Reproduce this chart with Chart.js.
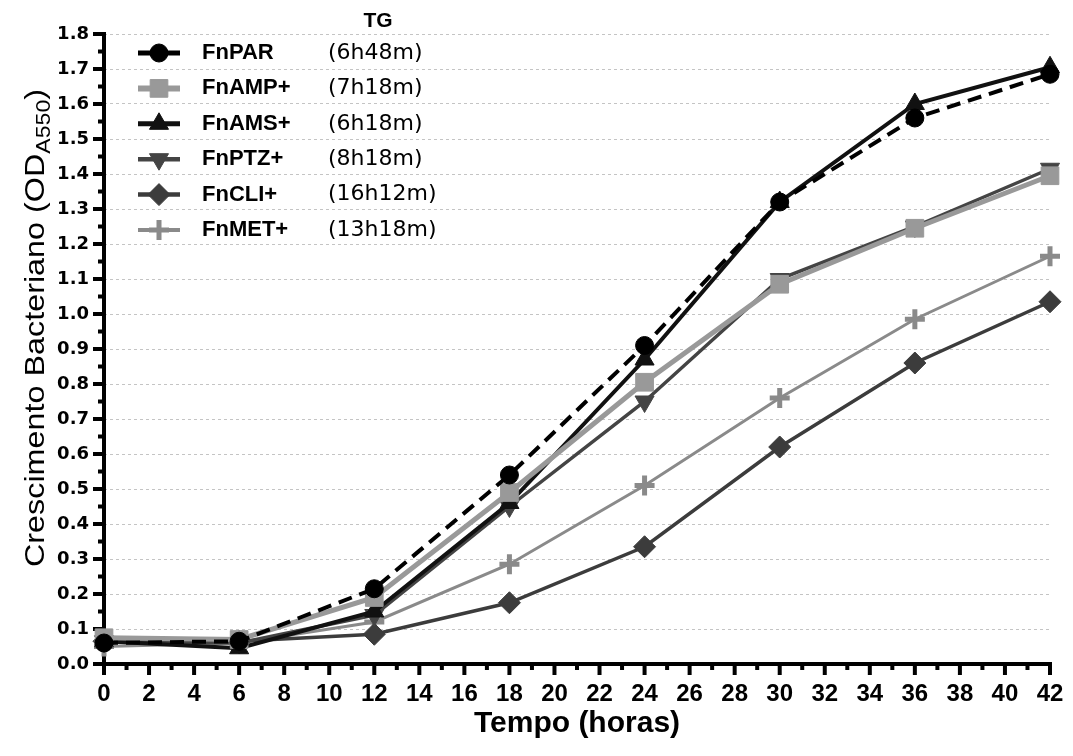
<!DOCTYPE html>
<html>
<head>
<meta charset="utf-8">
<script src="https://cdn.jsdelivr.net/npm/chart.js@4.4.1/dist/chart.umd.min.js"></script>
<style>
    html, body { margin: 0; padding: 0; background: #fff; }
</style>
</head>
<body>
<canvas id="myChart" width="1073" height="756"></canvas>
<script>
// dados
var horas = [0, 6, 12, 18, 24, 30, 36, 42];
var fnPAR = [0.06, 0.065, 0.215, 0.54, 0.91, 1.32, 1.56, 1.685];
var fnAMP = [0.075, 0.07, 0.19, 0.49, 0.805, 1.085, 1.245, 1.395];
var fnAMS = [0.065, 0.045, 0.15, 0.46, 0.87, 1.32, 1.60, 1.705];
var fnPTZ = [0.065, 0.06, 0.14, 0.45, 0.75, 1.10, 1.25, 1.415];
var fnCLI = [0.065, 0.065, 0.085, 0.175, 0.335, 0.62, 0.86, 1.035];
var fnMET = [0.05, 0.06, 0.12, 0.285, 0.51, 0.76, 0.985, 1.165];

var nomes = ["FnPAR", "FnAMP+", "FnAMS+", "FnPTZ+", "FnCLI+", "FnMET+"];
var tempoGeracao = ["(6h48m)", "(7h18m)", "(6h18m)", "(8h18m)", "(16h12m)", "(13h18m)"];

function pontos(valores) {
    return horas.map(function (h, i) {
        return { x: h, y: valores[i] };
    });
}

var estilos = [
    { cor: "#000000", largura: 4, dash: [14, 8], ponto: "circle", raio: 9, rot: 0 },
    { cor: "#999999", largura: 5, dash: [], ponto: "rect", raio: 12.5, rot: 0 },
    { cor: "#111111", largura: 4, dash: [], ponto: "triangle", raio: 11, rot: 0 },
    { cor: "#444444", largura: 3.5, dash: [], ponto: "triangle", raio: 11, rot: 180 },
    { cor: "#3c3c3c", largura: 3.5, dash: [], ponto: "rectRot", raio: 11, rot: 0 },
    { cor: "#8a8a8a", largura: 3, dash: [], ponto: "cross", raio: 10, rot: 0 }
];
var series = [fnPAR, fnAMP, fnAMS, fnPTZ, fnCLI, fnMET];

var datasets = series.map(function (valores, i) {
    var e = estilos[i];
    return {
        label: nomes[i],
        data: pontos(valores),
        borderColor: e.cor,
        backgroundColor: e.cor,
        borderWidth: e.largura,
        borderDash: e.dash,
        pointStyle: e.ponto,
        pointRadius: e.raio,
        pointRotation: e.rot,
        pointBorderWidth: e.ponto === "cross" ? 5 : 1,
        pointBackgroundColor: e.cor,
        pointBorderColor: e.cor,
        tension: 0,
        clip: false
    };
});

// eixos com ticks maiores e menores
var eixosPlugin = {
    id: "eixos",
    beforeDatasetsDraw: function (chart) {
        var ctx = chart.ctx;
        var sx = chart.scales.x, sy = chart.scales.y;
        var x0 = sx.left, yb = sy.bottom;
        ctx.save();
        ctx.strokeStyle = "#000";
        ctx.lineWidth = 4;
        ctx.beginPath();
        ctx.moveTo(x0, sy.top - 2);
        ctx.lineTo(x0, yb + 2);
        ctx.moveTo(x0 - 2, yb);
        ctx.lineTo(sx.right + 2, yb);
        for (var v = 0; v <= 36; v++) {
            var py = sy.getPixelForValue(v / 20);
            var len = v % 2 === 0 ? 11 : 6;
            ctx.moveTo(x0, py);
            ctx.lineTo(x0 - len, py);
        }
        for (var h = 0; h <= 42; h++) {
            var px = sx.getPixelForValue(h);
            var l = h % 2 === 0 ? 11 : 6;
            ctx.moveTo(px, yb);
            ctx.lineTo(px, yb + l);
        }
        ctx.stroke();
        ctx.restore();
    },
    afterDraw: function (chart) {
        var ctx = chart.ctx;
        ctx.save();

        // titulo do eixo y com subscrito
        var principal = "Crescimento Bacteriano (OD";
        var fMain = "28px 'Liberation Sans', Arial";
        var fSub = "20px 'Liberation Sans', Arial";
        ctx.font = fMain;
        var w1 = ctx.measureText(principal).width;
        var w3 = ctx.measureText(")").width;
        ctx.font = fSub;
        var w2 = ctx.measureText("A550").width;
        var total = w1 + w2 + w3;
        ctx.translate(36, 328);
        ctx.rotate(-Math.PI / 2);
        ctx.scale(478 / total, 1);
        ctx.fillStyle = "#000";
        ctx.textBaseline = "middle";
        ctx.textAlign = "left";
        var x = -total / 2;
        ctx.font = fMain;
        ctx.fillText(principal, x, 0);
        ctx.font = fSub;
        ctx.fillText("A550", x + w1, 8);
        ctx.font = fMain;
        ctx.fillText(")", x + w1 + w2, 0);
        ctx.restore();

        // legenda
        ctx.save();
        ctx.fillStyle = "#000";
        ctx.textBaseline = "middle";
        ctx.textAlign = "center";
        ctx.font = "bold 21px 'Liberation Sans', Arial";
        ctx.fillText("TG", 378, 21);
        chart.data.datasets.forEach(function (ds, i) {
            var e = estilos[i];
            var yy = 53 + i * 35.4;
            ctx.save();
            ctx.strokeStyle = e.cor;
            ctx.fillStyle = e.cor;
            ctx.lineWidth = e.largura + 1;
            ctx.beginPath();
            ctx.moveTo(138, yy);
            ctx.lineTo(180, yy);
            ctx.stroke();
            ctx.lineWidth = e.ponto === "cross" ? 5 : 1;
            Chart.helpers.drawPoint(ctx, {
                pointStyle: e.ponto,
                radius: e.raio,
                rotation: e.rot,
                borderWidth: ctx.lineWidth
            }, 159, yy);
            ctx.restore();
            ctx.fillStyle = "#000";
            ctx.textAlign = "left";
            ctx.font = "bold 22px 'Liberation Sans', Arial";
            ctx.fillText(ds.label, 202, yy);
            ctx.font = "22px 'DejaVu Sans'";
            ctx.fillText(tempoGeracao[i], 328, yy);
        });
        ctx.restore();
    }
};

var ctx = document.getElementById("myChart").getContext("2d");
var myChart = new Chart(ctx, {
    type: "line",
    data: { datasets: datasets },
    options: {
        responsive: false,
        animation: false,
        layout: { padding: { top: 34, right: 23, left: 0, bottom: 0 } },
        plugins: {
            legend: { display: false },
            tooltip: { enabled: false }
        },
        scales: {
            x: {
                type: "linear",
                min: 0,
                max: 42,
                afterFit: function (s) {
                    s.height = 92;
                    s.paddingLeft = 0;
                    s.paddingRight = 0;
                },
                ticks: {
                    stepSize: 2,
                    padding: 16,
                    autoSkip: false,
                    maxRotation: 0,
                    color: "#000",
                    font: { family: "'Liberation Sans', Arial", size: 24, weight: "bold" }
                },
                grid: { display: false, drawTicks: false },
                border: { display: false },
                title: {
                    display: true,
                    text: "Tempo (horas)",
                    color: "#000",
                    padding: { top: 0, bottom: 14 },
                    font: { family: "'Liberation Sans', Arial", size: 30, weight: "bold" }
                }
            },
            y: {
                min: 0,
                max: 1.8,
                afterFit: function (s) {
                    s.width = 104;
                    s.paddingTop = 0;
                    s.paddingBottom = 0;
                },
                ticks: {
                    stepSize: 0.1,
                    padding: 15,
                    color: "#000",
                    font: { family: "'DejaVu Sans'", size: 18, weight: "bold" },
                    callback: function (v) { return v.toFixed(1); }
                },
                grid: {
                    drawTicks: false,
                    lineWidth: 1,
                    color: function (c) {
                        return c.tick && c.tick.value === 0 ? "rgba(0,0,0,0)" : "#c4c4c4";
                    }
                },
                border: { display: false, dash: [3, 3] }
            }
        }
    },
    plugins: [eixosPlugin]
});
</script>
</body>
</html>
